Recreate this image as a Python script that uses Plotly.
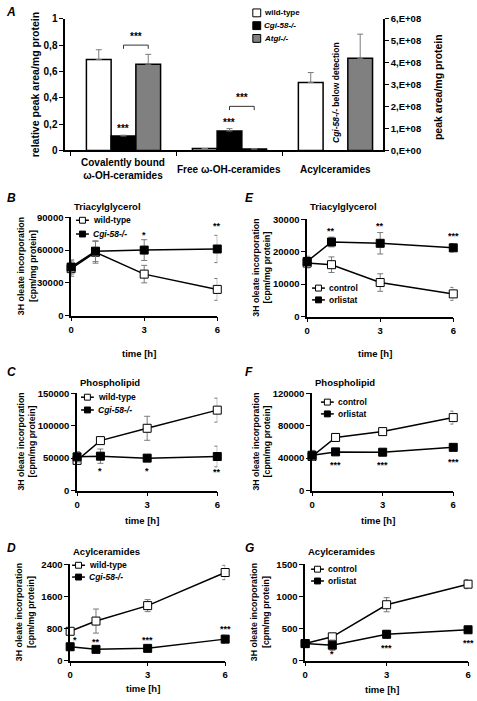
import plotly.graph_objects as go

W, H = 477, 701
FONT = "Liberation Sans, Arial, sans-serif"
ERRC = "#7a7a7a"
GRAY = "#808080"

def px(x):
    return x / W

def py(y):
    return 1 - y / H

# ---------------- Panel A data ----------------
a_categories = ["Covalently bound<br>ω-OH-ceramides", "Free ω-OH-ceramides", "Acylceramides"]
a_wt = [0.69, 0.015]
a_wt_err = [0.075, 0.0]
a_cgi = [0.11, 0.148]
a_cgi_err = [0.006, 0.018]
a_atgl = [0.655, 0.012]
a_atgl_err = [0.075, 0.0]
a_acyl_wt = [3.1e8]
a_acyl_wt_err = [0.45e8]
a_acyl_atgl = [4.2e8]
a_acyl_atgl_err = [1.1e8]
a_left_ticks = [0, 0.2, 0.4, 0.6, 0.8, 1]
a_left_ticktext = ["0", "0,2", "0,4", "0,6", "0,8", "1"]
a_right_ticks = [0, 1e8, 2e8, 3e8, 4e8, 5e8, 6e8]
a_right_ticktext = ["0,E+00", "1,E+08", "2,E+08", "3,E+08", "4,E+08", "5,E+08", "6,E+08"]

# ---------------- Time-course data ----------------
time = [0, 1, 3, 6]
time_ticks = [0, 3, 6]

b_wt = [43000, 58000, 38000, 24000]
b_wt_err = [7000, 10000, 8000, 10000]
b_cgi = [44500, 59000, 60000, 61000]
b_cgi_err = [6500, 9500, 9500, 12500]
b_star_t = [3, 6]
b_star_txt = ["*", "**"]
b_star_y = [74000, 82000]

e_ctrl = [16500, 16000, 10500, 7000]
e_ctrl_err = [1500, 2400, 2700, 2000]
e_orl = [17000, 23000, 22600, 21200]
e_orl_err = [1600, 1500, 3300, 1300]
e_star_t = [1, 3, 6]
e_star_txt = ["**", "**", "***"]
e_star_y = [26500, 28000, 25000]

c_wt = [46500, 77000, 96000, 124000]
c_wt_err = [5000, 3000, 18500, 18500]
c_cgi = [52000, 53000, 50000, 52500]
c_cgi_err = [8000, 11000, 3000, 16000]
c_star_t = [1, 3, 6]
c_star_txt = ["*", "*", "**"]
c_star_y = [30000, 30000, 28000]

f_ctrl = [42000, 65500, 72700, 90000]
f_ctrl_err = [3000, 2000, 2000, 8000]
f_orl = [43600, 47700, 47300, 53300]
f_orl_err = [6000, 2000, 3000, 2500]
f_star_t = [1, 3, 6]
f_star_txt = ["***", "***", "***"]
f_star_y = [32000, 32000, 35000]

d_wt = [730, 985, 1370, 2195]
d_wt_err = [60, 300, 150, 180]
d_cgi = [345, 280, 305, 535]
d_cgi_err = [80, 30, 40, 100]
d_star_t = [0.2, 1, 3, 6]
d_star_txt = ["*", "**", "***", "***"]
d_star_y = [520, 470, 520, 790]

g_ctrl = [265, 370, 870, 1190]
g_ctrl_err = [30, 40, 110, 70]
g_orl = [265, 240, 410, 480]
g_orl_err = [20, 80, 60, 30]
g_star_t = [1, 3, 6]
g_star_txt = ["*", "***", "***"]
g_star_y = [100, 195, 270]

fig = go.Figure()
annotations = []
shapes = []

def note(**kw):
    d = dict(showarrow=False, xanchor="center", yanchor="middle")
    d.update(kw)
    annotations.append(d)

# ---------------- Panel A ----------------
BARGAP = 0.30
bar_line = dict(color="black", width=1.5)

def up_err(err):
    return dict(type="data", array=err, arrayminus=[0] * len(err), symmetric=False,
                color=ERRC, thickness=1, width=3)

fig.add_trace(go.Bar(x=a_categories[:2], y=a_wt, error_y=up_err(a_wt_err),
                     marker=dict(color="white", line=bar_line), offsetgroup="wt",
                     alignmentgroup="A", xaxis="x", yaxis="y", showlegend=False))
fig.add_trace(go.Bar(x=a_categories[:2], y=a_cgi, error_y=up_err(a_cgi_err),
                     marker=dict(color="black", line=bar_line), offsetgroup="cgi",
                     alignmentgroup="A", xaxis="x", yaxis="y", showlegend=False))
fig.add_trace(go.Bar(x=a_categories[:2], y=a_atgl, error_y=up_err(a_atgl_err),
                     marker=dict(color=GRAY, line=bar_line), offsetgroup="atgl",
                     alignmentgroup="A", xaxis="x", yaxis="y", showlegend=False))
fig.add_trace(go.Bar(x=a_categories[2:], y=a_acyl_wt, error_y=up_err(a_acyl_wt_err),
                     marker=dict(color="white", line=bar_line), offsetgroup="wt",
                     alignmentgroup="A", xaxis="x", yaxis="y2", showlegend=False))
fig.add_trace(go.Bar(x=a_categories[2:], y=a_acyl_atgl, error_y=up_err(a_acyl_atgl_err),
                     marker=dict(color=GRAY, line=bar_line), offsetgroup="atgl",
                     alignmentgroup="A", xaxis="x", yaxis="y2", showlegend=False))

axis_common = dict(showline=True, linecolor="black", linewidth=1.5, showgrid=False,
                   zeroline=False, ticks="outside", ticklen=4, tickwidth=1.2, tickcolor="black")

layout = dict(
    width=W, height=H, margin=dict(l=0, r=0, t=0, b=0),
    paper_bgcolor="white", plot_bgcolor="white",
    font=dict(family=FONT, size=10, color="black", weight="bold"),
    barmode="group", bargap=BARGAP, bargroupgap=0,
    showlegend=False,
)
layout["xaxis"] = dict(axis_common, domain=[px(63), px(385)], anchor="y", type="category",
                       categoryorder="array", categoryarray=a_categories,
                       range=[-0.55, 2.45], tickson="boundaries", showticklabels=False)
layout["yaxis"] = dict(axis_common, domain=[py(147), py(13)], anchor="x", range=[0, 1],
                       tickvals=a_left_ticks, ticktext=a_left_ticktext,
                       tickfont=dict(size=10))
layout["yaxis2"] = dict(axis_common, overlaying="y", side="right", anchor="x",
                        range=[0, 6e8], tickvals=a_right_ticks, ticktext=a_right_ticktext,
                        tickfont=dict(size=9.5))

# category labels
for i, cat in enumerate(a_categories):
    note(x=i, y=py(166), xref="x", yref="paper", text=cat, font=dict(size=10))
# axis titles A
note(x=px(32), y=py(80), xref="paper", yref="paper", text="relative peak area/mg protein",
     textangle=-90, font=dict(size=10.5))
note(x=px(440), y=py(82), xref="paper", yref="paper", text="peak area/mg protein",
     textangle=-90, font=dict(size=10.5))
note(x=2, y=0.44, xref="x", yref="y", textangle=-90,
     text="<i>Cgi-58-/-</i> below detection", font=dict(size=8.5))
# significance A
bw = (1 - BARGAP) / 3
a_star_cat = [0, 1]
a_bar_star_y = [0.17, 0.21]
a_brk_y = [0.80, 0.335]
for ci, sy, by in zip(a_star_cat, a_bar_star_y, a_brk_y):
    note(x=ci, y=sy, xref="x", yref="y", text="***", font=dict(size=10))
    x0, x1 = ci, ci + bw
    for (xa, ya, xb, yb) in [(x0, by, x1, by), (x0, by, x0, by - 0.028), (x1, by, x1, by - 0.028)]:
        shapes.append(dict(type="line", xref="x", yref="y", x0=xa, y0=ya, x1=xb, y1=yb,
                           line=dict(color="#333", width=1)))
    note(x=(x0 + x1) / 2, y=by + 0.065, xref="x", yref="y", text="***", font=dict(size=10))

# legend A
for yy, col, lab in [(7, "white", "wild-type"), (20, "black", "<i>Cgi-58-/-</i>"),
                     (33, GRAY, "<i>Atgl-/-</i>")]:
    shapes.append(dict(type="rect", xref="paper", yref="paper", x0=px(253), x1=px(261),
                       y0=py(yy + 4), y1=py(yy - 4), fillcolor=col,
                       line=dict(color="black", width=1)))
    note(x=px(262), y=py(yy), xref="paper", yref="paper", text=lab, xanchor="left",
         font=dict(size=8))

note(x=px(1), y=py(6), xref="paper", yref="paper", text="<i>A</i>", xanchor="left",
     font=dict(size=12))

# ---------------- Line panels ----------------
panels = [
    ("B", "Triacylglycerol", 69, 217, 215, 315, 90000, 30000, b_wt, b_wt_err, b_cgi, b_cgi_err,
     "wild-type", "<i>Cgi-58-/-</i>", (74, 218, 232), (b_star_t, b_star_txt, b_star_y), 24, 354, 2, 195, 204),
    ("E", "Triacylglycerol", 308, 456, 217, 316, 30000, 10000, e_ctrl, e_ctrl_err, e_orl, e_orl_err,
     "control", "orlistat", (313, 287, 299), (e_star_t, e_star_txt, e_star_y), 262, 354, 243, 195, 204),
    ("C", "Phospholipid", 75, 217, 394, 493, 150000, 50000, c_wt, c_wt_err, c_cgi, c_cgi_err,
     "wild-type", "<i>Cgi-58-/-</i>", (79, 398, 411), (c_star_t, c_star_txt, c_star_y), 24, 523, 2, 372, 383),
    ("F", "Phospholipid", 313, 456, 394, 493, 120000, 40000, f_ctrl, f_ctrl_err, f_orl, f_orl_err,
     "control", "orlistat", (322, 403, 415), (f_star_t, f_star_txt, f_star_y), 262, 523, 243, 372, 383),
    ("D", "Acylceramides", 68, 225, 568, 666, 2400, 800, d_wt, d_wt_err, d_cgi, d_cgi_err,
     "wild-type", "<i>Cgi-58-/-</i>", (70, 569, 581), (d_star_t, d_star_txt, d_star_y), 22, 694, 2, 551, 555),
    ("G", "Acylceramides", 306, 471, 568, 666, 1500, 500, g_ctrl, g_ctrl_err, g_orl, g_orl_err,
     "control", "orlistat", (312, 573, 585), (g_star_t, g_star_txt, g_star_y), 260, 695, 243, 551, 555),
]

for k, (letter, title, x0, x1, yt, yb, ymax, dt, s1, e1, s2, e2, l1, l2, lg, st,
        ytx, xty, letx, lety, tity) in enumerate(panels):
    xa = "x%d" % (k + 2)
    ya = "y%d" % (k + 3)
    layout["xaxis%d" % (k + 2)] = dict(axis_common, domain=[px(x0), px(x1)], anchor=ya,
                                       range=[0, 6], tickvals=time_ticks,
                                       tickfont=dict(size=9.5))
    layout["yaxis%d" % (k + 3)] = dict(axis_common, domain=[py(yb), py(yt)], anchor=xa,
                                       range=[0, ymax], dtick=dt, tickformat="d",
                                       tickfont=dict(size=9.5))
    for s, e, fill in [(s1, e1, "white"), (s2, e2, "black")]:
        fig.add_trace(go.Scatter(
            x=time, y=s, xaxis=xa, yaxis=ya, mode="lines+markers", cliponaxis=False,
            line=dict(color="black", width=1.5),
            marker=dict(symbol="square", size=8, color=fill, line=dict(color="black", width=1)),
            error_y=dict(type="data", array=e, color=ERRC, thickness=1, width=3),
            showlegend=False))
    for t, txt, yv in zip(*st):
        note(x=t, y=yv, xref=xa, yref=ya, text=txt, font=dict(size=9))
    lx, ly1, ly2 = lg
    for yy, fill, lab in [(ly1, "white", l1), (ly2, "black", l2)]:
        shapes.append(dict(type="line", xref="paper", yref="paper", x0=px(lx), x1=px(lx + 13),
                           y0=py(yy), y1=py(yy), line=dict(color="black", width=1.5)))
        shapes.append(dict(type="rect", xref="paper", yref="paper", x0=px(lx + 3.5),
                           x1=px(lx + 9.5), y0=py(yy + 3), y1=py(yy - 3), fillcolor=fill,
                           line=dict(color="black", width=1)))
        note(x=px(lx + 15), y=py(yy), xref="paper", yref="paper", text=lab, xanchor="left",
             font=dict(size=8.5))
    note(x=px(x0 + 1), y=py(tity), xref="paper", yref="paper", text=title, xanchor="left",
         font=dict(size=9.5))
    note(x=px(letx), y=py(lety), xref="paper", yref="paper", text="<i>%s</i>" % letter,
         xanchor="left", font=dict(size=12))
    note(x=px(ytx), y=py((yt + yb) / 2), xref="paper", yref="paper",
         text="3H oleate incorporation<br>[cpm/mg protein]", textangle=-90,
         font=dict(size=8.8))
    note(x=px((x0 + x1) / 2 - 5), y=py(xty), xref="paper", yref="paper", text="time [h]",
         font=dict(size=9.5))

layout["annotations"] = annotations
layout["shapes"] = shapes
fig.update_layout(**layout)

fig.write_html("out.html", config={"displayModeBar": False},
               post_script="document.body.style.margin='0';document.body.style.overflow='hidden';")
